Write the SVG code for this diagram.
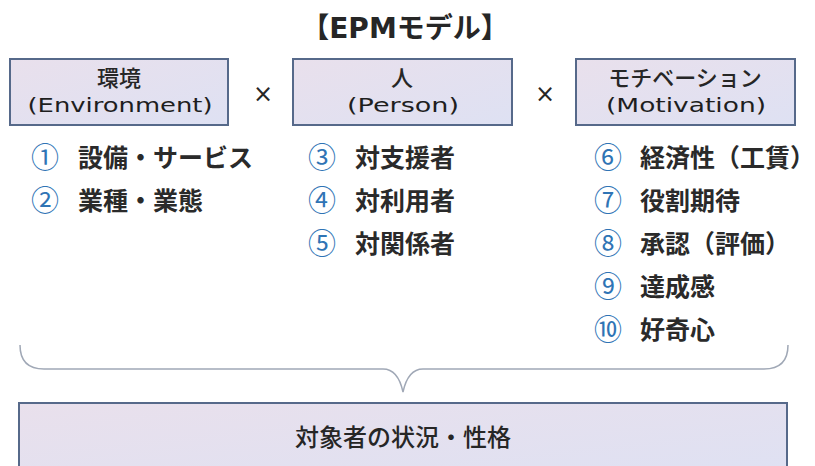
<svg xmlns="http://www.w3.org/2000/svg" width="815" height="466" viewBox="0 0 815 466">
<defs>
<linearGradient id="fillg" x1="0" y1="0" x2="1" y2="1">
<stop offset="0" stop-color="#e9e0ec"/>
<stop offset="1" stop-color="#dee1f3"/>
</linearGradient>
<style>
.box{fill:url(#fillg);stroke:#56698a;stroke-width:2}
.t{font-family:"DejaVu Sans","Noto Sans CJK JP",sans-serif;fill:#262626;text-anchor:middle}
.b1{font-size:22px;font-weight:500}
.b2{font-size:20px;fill:#1e1e1e}
.li{font-family:"Noto Sans CJK JP",sans-serif;font-size:25px;font-weight:700;fill:#2a2a2a}
.num{font-family:"Noto Sans CJK JP",sans-serif;font-size:28px;fill:#2f74b5;text-anchor:middle}
.brace{fill:none;stroke:#a0a8b6;stroke-width:1.5}
</style>
</defs>
<rect width="815" height="466" fill="#fff"/>
<text class="t" x="405" y="38" font-size="28" font-weight="700">【EPMモデル】</text>
<g id="environment">
<rect class="box" x="10" y="59" width="218" height="66"/>
<text class="t b1" x="119" y="86">環境</text>
<text class="t b2" x="120" y="112" textLength="185" lengthAdjust="spacingAndGlyphs">(Environment)</text>
</g>
<g id="person">
<rect class="box" x="293" y="59" width="219" height="66"/>
<text class="t b1" x="402" y="86">人</text>
<text class="t b2" x="403" y="112" textLength="112" lengthAdjust="spacingAndGlyphs">(Person)</text>
</g>
<g id="motivation">
<rect class="box" x="576" y="59" width="219" height="66"/>
<text class="t b1" x="685" y="86">モチベーション</text>
<text class="t b2" x="686" y="112" textLength="160" lengthAdjust="spacingAndGlyphs">(Motivation)</text>
</g>
<text class="t" x="263" y="102" font-size="24">×</text>
<text class="t" x="545" y="102" font-size="24">×</text>
<g id="list-env">
<text class="num" x="45" y="168">①</text><text class="li" x="78" y="167">設備・サービス</text>
<text class="num" x="45" y="211">②</text><text class="li" x="78" y="210">業種・業態</text>
</g>
<g id="list-person">
<text class="num" x="322" y="168">③</text><text class="li" x="355" y="167">対支援者</text>
<text class="num" x="322" y="211">④</text><text class="li" x="355" y="210">対利用者</text>
<text class="num" x="322" y="254">⑤</text><text class="li" x="355" y="253">対関係者</text>
</g>
<g id="list-motivation">
<text class="num" x="608" y="168">⑥</text><text class="li" x="640" y="167">経済性（工賃）</text>
<text class="num" x="608" y="211">⑦</text><text class="li" x="640" y="210">役割期待</text>
<text class="num" x="608" y="254">⑧</text><text class="li" x="640" y="253">承認（評価）</text>
<text class="num" x="608" y="297">⑨</text><text class="li" x="640" y="296">達成感</text>
<text class="num" x="608" y="340">⑩</text><text class="li" x="640" y="339">好奇心</text>
</g>
<g id="connectors">
<path class="brace" d="M20,345 Q20,369 44,369 L383,369 Q398,369 403,392 Q408,369 423,369 L764,369 Q788,369 788,345"/>
</g>
<g id="result">
<rect class="box" x="19" y="403" width="768" height="80"/>
<text class="t" x="403" y="446" font-size="24" font-weight="500">対象者の状況・性格</text>
</g>
</svg>
